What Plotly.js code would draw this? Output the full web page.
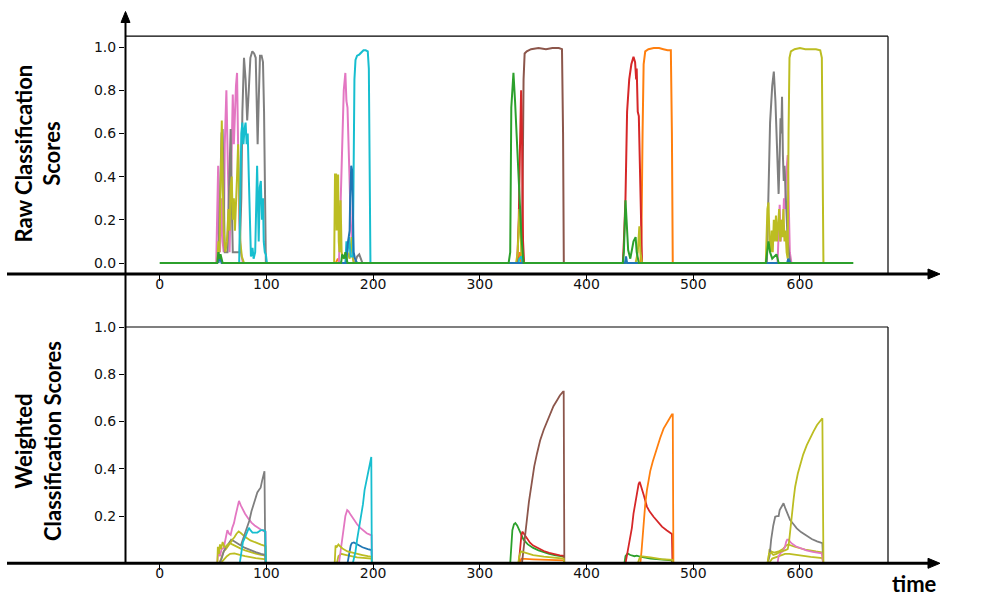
<!DOCTYPE html>
<html>
<head>
<meta charset="utf-8">
<script src="https://cdn.plot.ly/plotly-3.0.1.min.js"></script>
<style>html,body{margin:0;padding:0;background:#fff;}#chart{width:987px;height:609px;}</style>
</head>
<body>
<div id="chart"></div>
<script>
// ---------- DATA ----------
const xTickVals = [0, 100, 200, 300, 400, 500, 600];
const xTickText = ['0', '100', '200', '300', '400', '500', '600'];
const yTopTickVals = [0, 0.2, 0.4, 0.6, 0.8, 1.0];
const yTopTickText = ['0.0', '0.2', '0.4', '0.6', '0.8', '1.0'];
const yBotTickVals = [0.2, 0.4, 0.6, 0.8, 1.0];
const yBotTickText = ['0.2', '0.4', '0.6', '0.8', '1.0'];

// Raw classification scores (top panel)
const rawGreenT = [0,54,55,56,57,59,170,171,173,174,176,327,328.5,329.5,330.5,331.5,333,335,337,339,341,434,435,436.5,437.5,439,441,444,446,447,449,568,569,570.5,572,574,578,580,650];
const rawGreenV = [0,0,0.05,0.02,0.04,0,0,0.04,0.02,0.05,0,0,0.05,0.72,0.8,0.88,0.75,0.55,0.35,0.12,0,0,0.05,0.29,0.2,0.06,0.02,0.1,0.12,0.05,0,0,0.04,0.1,0.05,0.02,0.04,0,0];
const rawRedT = [335,336.5,337.5,338.7,339.5,340.5,341.5,434,435,436.5,438,440,442,444,445.5,446.5,447,448,449,450,451,452];
const rawRedV = [0,0.2,0.5,0.8,0.6,0.1,0,0,0.1,0.3,0.7,0.85,0.92,0.955,0.93,0.85,0.9,0.7,0.68,0.4,0.1,0];
const rawBrownT = [339,340,341,342,344,348,355,362,368,374,377,378,378.7];
const rawBrownV = [0,0.3,0.85,0.97,0.98,0.99,0.995,0.99,0.995,0.995,0.99,0.6,0];
const rawOrangeT = [165,167,169,336,337.5,339,450.5,451.5,452.5,453.5,455,458,463,468,472,476,479,480,480.8];
const rawOrangeV = [0,0.02,0,0,0.05,0,0,0.15,0.6,0.92,0.98,0.99,0.995,0.995,0.99,0.985,0.985,0.6,0];
const rawPinkT = [53,54,54.8,55.5,56.5,58,59,60,61,62.5,63.5,64.5,65.5,67,68.5,69.5,70.5,71.5,72.5,73.5,74.5,76,78,168,169.5,171,172.5,174,175,176,177.5,179,180.5,182,579,580,581,582,583,584,585,586,587,588.5,589.5,590.5,592];
const rawPinkV = [0,0.3,0.45,0.1,0.05,0.3,0.1,0.05,0.55,0.8,0.5,0.15,0.05,0.4,0.78,0.55,0.7,0.82,0.88,0.6,0.2,0.05,0,0,0.3,0.6,0.8,0.88,0.75,0.72,0.45,0.2,0.05,0,0,0.15,0.27,0.1,0.2,0.15,0.3,0.25,0.4,0.5,0.3,0.05,0];
const rawGrayT = [55,56.5,58,59,60,61,63.5,65,66.5,67.5,68.5,75,76.5,77.5,79,80.5,82,83.5,85,86.8,88.5,90,91,91.8,92.8,94,95.5,96.8,97.8,98.8,99.5,183,185,187,189,190,569,570.5,572,574,575.5,577,578.5,580,581,581.8,582.5,583.2,584,584.8,585.5,586.5,587.5,588.5,590,591];
const rawGrayV = [0,0.3,0.6,0.62,0.3,0.05,0.05,0.4,0.62,0.3,0.05,0.05,0.3,0.7,0.95,0.85,0.66,0.8,0.95,0.98,0.97,0.95,0.7,0.55,0.75,0.96,0.96,0.93,0.7,0.2,0,0,0.03,0.04,0.01,0,0,0.3,0.65,0.82,0.886,0.75,0.5,0.32,0.5,0.67,0.6,0.77,0.5,0.38,0.45,0.3,0.2,0.1,0.03,0];
const rawOliveT = [54,55,56,57,58.2,59,60,61.5,63,64.5,65.5,66.5,67.5,68.5,69.5,70.5,71.5,72.5,73.5,74.5,75.5,77,79,163.5,164.3,165.3,165.8,166.5,167.2,167.8,168.5,169.5,170.5,172,176,178,180,181,182,334,335.5,337,338,339,341,446,448,449.5,450.5,452,568,569.5,570.5,571.5,572.5,573.5,574.5,575.5,576.5,577.5,578.5,579.5,580.5,581.5,582.5,583.5,584.5,585.5,586.5,587.5,588.5,589.3,590.2,591.5,595,600,605,610,615,619,620.5,621.5,622];
const rawOliveV = [0,0.1,0.05,0.45,0.66,0.4,0.15,0.05,0.1,0.25,0.15,0.35,0.4,0.2,0.3,0.15,0.25,0.4,0.55,0.35,0.1,0.03,0,0,0.41,0.41,0.15,0.3,0.41,0.1,0.05,0.29,0.05,0.02,0.05,0.02,0.12,0.02,0,0,0.05,0.25,0.15,0.05,0,0,0.05,0.17,0.05,0,0,0.25,0.28,0.1,0.05,0.15,0.05,0.2,0.1,0.22,0.1,0.18,0.25,0.1,0.2,0.12,0.25,0.1,0.15,0.05,0.02,0.6,0.95,0.98,0.99,0.995,0.99,0.99,0.99,0.985,0.95,0.3,0];
const rawCyanT = [74.5,75.5,76.5,77.5,78.5,79.5,80.5,81.5,82.5,83.5,84.5,85.5,87,88,89.5,90.5,91.3,92,92.8,93.8,94.8,95.8,96.8,97.5,98.5,99.5,100.5,174,175,176,177.5,179,181,181.5,182.5,183.5,185,187,189,191,193,195,196,196.8,197.5,336,337,339,340];
const rawCyanV = [0,0.35,0.6,0.65,0.55,0.62,0.65,0.55,0.6,0.4,0.15,0.03,0.07,0.02,0.05,0.25,0.45,0.3,0.1,0.35,0.38,0.2,0.3,0.1,0.05,0.04,0,0,0.1,0.05,0.12,0.03,0.03,0.3,0.85,0.94,0.96,0.965,0.975,0.985,0.985,0.98,0.9,0.3,0,0,0.02,0.03,0];
const rawBlueT = [55,56,58,175,176,177,178,178.5,179.5,180.3,181,181.8,183,185,436,437,438,588,589,591];
const rawBlueV = [0,0.03,0,0,0.08,0.12,0.15,0.3,0.45,0.43,0.25,0.05,0.02,0,0,0.03,0,0,0.02,0];

// Weighted classification scores (bottom panel)
const wPinkT = [54,55,56.5,58,60,61.5,63.4,65,66.5,68,69.6,71,72.5,74.3,76,78,80,83,86,89,92,95,98,99.3,99.5,168,169.5,171,172.5,174,175.7,177,179,182,185,188,191,194,197.5,198.5,199,579,580,582,584,586,587,588,589.2,592,596,600,606,612,620.4,621.8];
const wPinkV = [0,0.06,0.03,0.06,0.065,0.1,0.14,0.125,0.12,0.15,0.17,0.2,0.235,0.264,0.245,0.225,0.21,0.19,0.172,0.16,0.15,0.142,0.135,0.133,0,0,0.05,0.1,0.16,0.2,0.225,0.22,0.205,0.183,0.165,0.15,0.137,0.127,0.12,0.118,0,0,0.03,0.045,0.05,0.07,0.09,0.1,0.1,0.085,0.072,0.065,0.055,0.048,0.042,0];
const wGrayAT = [56,58,60,62,64,66,67,69,72,76,80,85,90,95,99.3,99.5,569.5,571.5,573,575,576.8,578.5,580,581,583,584.6,586.5,588.5,590.8,594,597,601,606.4,611,616,620.4,621,621.8];
const wGrayAV = [0,0.02,0.05,0.07,0.08,0.095,0.1,0.095,0.085,0.075,0.065,0.055,0.047,0.04,0.035,0,0,0.03,0.1,0.16,0.197,0.2,0.2,0.225,0.24,0.254,0.23,0.205,0.183,0.165,0.148,0.132,0.115,0.103,0.093,0.085,0.085,0];
const wGrayBT = [76,78,80,82,84,86,88,90,91.5,93,94.6,96,97.7,98.2,99];
const wGrayBV = [0.075,0.1,0.13,0.15,0.18,0.22,0.25,0.28,0.3,0.31,0.32,0.35,0.39,0.39,0];
const wCyanT = [75,76.5,78,80,82,83.6,85,87,89,91.5,93,95,97,99,99.5,181,182,183.5,185,187,188.5,190.5,192,194,196,197.5,198.3,198.8];
const wCyanV = [0,0.05,0.09,0.11,0.13,0.15,0.14,0.13,0.13,0.13,0.135,0.14,0.14,0.135,0,0,0.02,0.05,0.1,0.15,0.19,0.25,0.31,0.36,0.41,0.44,0.45,0];
const wOliveAT = [54,54.5,55.5,56.5,57.5,59,60.5,62,64,66,68,70,72,74,76,80,85,90,95,99.3,99.5,164,164.8,166,167.5,169,172,176,180,185,190,195,198.5,199,336,337,338.5,340,345,350,360,370,378.6,379,448,449.5,451,460,470,480.5,481,569.5,571,573,575,578,582,586,588.5,589.5,590.5,592.3,594,595.5,598,600.2,603,606.4,609.5,612.6,616,620.4,621,622];
const wOliveAV = [0,0.07,0.04,0.08,0.06,0.09,0.07,0.07,0.08,0.085,0.1,0.11,0.125,0.135,0.128,0.112,0.097,0.087,0.079,0.073,0,0,0.075,0.07,0.08,0.072,0.06,0.05,0.045,0.04,0.035,0.03,0.028,0,0,0.03,0.05,0.048,0.04,0.035,0.028,0.023,0.02,0,0,0.02,0.03,0.025,0.018,0.015,0,0,0.04,0.045,0.035,0.04,0.05,0.055,0.06,0.08,0.13,0.197,0.27,0.324,0.38,0.416,0.46,0.5,0.53,0.557,0.585,0.614,0.614,0];
const wOliveBT = [56,58,60,62,64,66,68,72,76,80,85,90,95,99.3,99.5,166,167.5,170,175,185,198.5,199,570,571.5,573,576,580,584,587,589,595,605,615,621,621.8];
const wOliveBV = [0,0.03,0.05,0.06,0.075,0.085,0.08,0.07,0.062,0.055,0.047,0.041,0.036,0.033,0,0,0.03,0.04,0.035,0.025,0.02,0,0,0.06,0.05,0.045,0.05,0.06,0.075,0.08,0.07,0.058,0.05,0.046,0];
const wOliveCT = [57,60,63,66,70,75,80,90,99.3,99.5,571,574,580,586,590,600,610,621,621.8];
const wOliveCV = [0,0.015,0.03,0.04,0.042,0.036,0.03,0.022,0.017,0,0,0.02,0.03,0.04,0.04,0.033,0.027,0.022,0];
const wBlueT = [176,177,178,179,180,182,185,190,195,198.5,199];
const wBlueV = [0,0.02,0.05,0.075,0.085,0.088,0.08,0.068,0.06,0.056,0];
const wGreenT = [328.5,329.5,330.5,332,333.3,335,337,339,341,345,350,355,360,365,370,375,378.6,379,435.5,436.5,438.5,441,445,447,450,460,470,480,480.5];
const wGreenV = [0,0.1,0.14,0.165,0.17,0.16,0.14,0.12,0.1,0.08,0.065,0.055,0.047,0.04,0.035,0.03,0.028,0,0,0.03,0.042,0.035,0.03,0.032,0.028,0.02,0.015,0.012,0];
const wRedT = [336.5,338,339,340,342,344,347,350,355,360,365,370,375,378.6,379,436.5,437.7,439.5,441,442.5,444,446,447.3,448.8,449.8,451,453.5,456.6,459,462.8,466,470.7,475,480,480.5];
const wRedV = [0,0.08,0.12,0.134,0.12,0.105,0.087,0.075,0.062,0.052,0.044,0.038,0.034,0.032,0,0,0.03,0.07,0.1,0.15,0.21,0.27,0.31,0.335,0.345,0.33,0.29,0.24,0.22,0.197,0.18,0.155,0.14,0.124,0];
const wBrownT = [339.5,341,342.5,344,346,349,351,353.6,356.5,359.8,363,366,369,372.4,375,378,378.6,379.2];
const wBrownV = [0,0.05,0.12,0.18,0.26,0.35,0.41,0.465,0.52,0.564,0.6,0.635,0.665,0.69,0.71,0.726,0.726,0];
const wOrangeT = [337,339,350,365,378.6,379,450.4,451.5,452.5,453.5,455,456.6,458,459.7,462,466,469,472.2,476,480,480.8,481.4];
const wOrangeV = [0,0.02,0.017,0.014,0.012,0,0,0.05,0.12,0.18,0.25,0.31,0.35,0.39,0.43,0.49,0.53,0.57,0.6,0.63,0.63,0];

// ---------- STYLE ----------
const C = {blue:'#1f77b4', orange:'#ff7f0e', green:'#2ca02c', red:'#d62728', brown:'#8c564b',
           pink:'#e377c2', gray:'#7f7f7f', olive:'#bcbd22', cyan:'#17becf'};
const W = 987, H = 609;
const fx = p => p / W;
const fy = p => 1 - p / H;

function tr(x, y, color, axis, width) {
  return {x: x, y: y, type: 'scatter', mode: 'lines', xaxis: axis[0], yaxis: axis[1],
          line: {color: color, width: width, shape: 'linear'}, hoverinfo: 'skip', showlegend: false};
}
const TOP = ['x', 'y'], BOT = ['x2', 'y2'];
const data = [
  tr(rawBrownT, rawBrownV, C.brown, TOP, 2),
  tr(rawOrangeT, rawOrangeV, C.orange, TOP, 2),
  tr(rawRedT, rawRedV, C.red, TOP, 2),
  tr(rawPinkT, rawPinkV, C.pink, TOP, 2),
  tr(rawGrayT, rawGrayV, C.gray, TOP, 2),
  tr(rawOliveT, rawOliveV, C.olive, TOP, 2),
  tr(rawCyanT, rawCyanV, C.cyan, TOP, 2),
  tr(rawBlueT, rawBlueV, C.blue, TOP, 2),
  tr(rawGreenT, rawGreenV, C.green, TOP, 2),

  tr(wOliveCT, wOliveCV, C.olive, BOT, 1.8),
  tr(wOliveBT, wOliveBV, C.olive, BOT, 1.8),
  tr(wGrayAT, wGrayAV, C.gray, BOT, 1.8),
  tr(wBlueT, wBlueV, C.blue, BOT, 1.8),
  tr(wGreenT, wGreenV, C.green, BOT, 1.8),
  tr(wRedT, wRedV, C.red, BOT, 1.8),
  tr(wOrangeT, wOrangeV, C.orange, BOT, 1.8),
  tr(wBrownT, wBrownV, C.brown, BOT, 1.8),
  tr(wPinkT, wPinkV, C.pink, BOT, 1.8),
  tr(wOliveAT, wOliveAV, C.olive, BOT, 1.8),
  tr(wGrayBT, wGrayBV, C.gray, BOT, 1.8),
  tr(wCyanT, wCyanV, C.cyan, BOT, 1.8),
  // empty traces that carry the tick-label-only overlay axes
  {x: [], y: [], type: 'scatter', mode: 'lines', xaxis: 'x3', yaxis: 'y', hoverinfo: 'skip', showlegend: false},
  {x: [], y: [], type: 'scatter', mode: 'lines', xaxis: 'x4', yaxis: 'y2', hoverinfo: 'skip', showlegend: false}
];

const tickFont = {family: 'DejaVu Sans', size: 14, color: '#111'};
const xDom = [fx(125), fx(888)];
const xRange = [-32.5, 682.5];
function xTickAx(anchor) {   // tick marks only
  return {domain: xDom, range: xRange, anchor: anchor, tickvals: xTickVals, ticktext: xTickText,
          ticks: 'outside', ticklen: 6, tickwidth: 1, tickcolor: '#000', showticklabels: false,
          showline: false, zeroline: false, showgrid: false, fixedrange: true};
}
function xLabAx(anchor, over) {   // tick labels only
  return {domain: xDom, range: xRange, anchor: anchor, overlaying: over, tickvals: xTickVals,
          ticktext: xTickText, ticks: '', showticklabels: true, tickfont: tickFont,
          showline: false, zeroline: false, showgrid: false, fixedrange: true};
}
function yAx(anchor, dom, rng, tv, tt) {
  return {domain: dom, range: rng, anchor: anchor, tickvals: tv, ticktext: tt,
          ticks: 'outside', ticklen: 5, tickwidth: 1, tickcolor: '#000', showline: false,
          zeroline: false, showgrid: false, tickfont: tickFont, fixedrange: true};
}

function line(x0, y0, x1, y1, w) {
  return {type: 'line', xref: 'paper', yref: 'paper', x0: fx(x0), y0: fy(y0), x1: fx(x1), y1: fy(y1),
          line: {color: '#000', width: w}, layer: 'above'};
}
function tri(pts) {
  const d = 'M ' + pts.map(p => fx(p[0]) + ',' + fy(p[1])).join(' L ') + ' Z';
  return {type: 'path', xref: 'paper', yref: 'paper', path: d, fillcolor: '#000',
          line: {color: '#000', width: 1}, layer: 'above'};
}

const shapes = [
  line(125, 36.2, 888, 36.2, 1.2),
  line(888, 36.2, 888, 273.8, 1.2),
  line(125, 327, 888, 327, 1.2),
  line(888, 327, 888, 563.3, 1.2),
  line(125.5, 20, 125.5, 563.3, 2),
  line(7, 274, 930, 274, 3),
  line(7, 563.3, 930, 563.3, 3),
  tri([[121, 22.5], [125.5, 11.5], [130, 22.5]]),
  tri([[928, 269], [940, 274], [928, 279]]),
  tri([[928, 558.3], [940, 563.3], [928, 568.3]])
];

const titleFont = {family: 'Lato, "Noto Sans", sans-serif', size: 22, color: '#000'};
const annotations = [
  {xref: 'paper', yref: 'paper', x: fx(38), y: fy(153.5), xanchor: 'center', yanchor: 'middle',
   text: '<b>Raw Classification<br>Scores</b>', textangle: -90, showarrow: false, font: titleFont, align: 'center'},
  {xref: 'paper', yref: 'paper', x: fx(38), y: fy(441), xanchor: 'center', yanchor: 'middle',
   text: '<b>Weighted<br>Classification Scores</b>', textangle: -90, showarrow: false, font: titleFont, align: 'center'},
  {xref: 'paper', yref: 'paper', x: fx(914), y: fy(583), xanchor: 'center', yanchor: 'middle',
   text: '<b>time</b>', showarrow: false, font: titleFont}
];

const layout = {
  width: W, height: H, margin: {l: 0, r: 0, t: 0, b: 0},
  paper_bgcolor: '#fff', plot_bgcolor: '#fff', showlegend: false,
  xaxis: xTickAx('y'),
  yaxis: yAx('x', [fy(273.8), fy(36.2)], [-0.05, 1.05], yTopTickVals, yTopTickText),
  xaxis2: xTickAx('y2'),
  yaxis2: yAx('x2', [fy(563.3), fy(327)], [0, 1.0], yBotTickVals, yBotTickText),
  xaxis3: xLabAx('y', 'x'),
  xaxis4: xLabAx('y2', 'x2'),
  shapes: shapes,
  annotations: annotations
};

Plotly.newPlot('chart', data, layout, {displayModeBar: false, staticPlot: true});
</script>
</body>
</html>
